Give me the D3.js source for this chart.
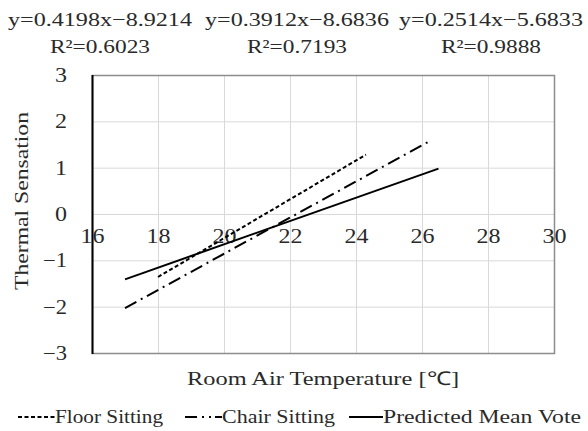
<!DOCTYPE html>
<html lang="en">
<head>
<meta charset="UTF-8">
<title>Thermal Sensation</title>
<script src="https://cdn.jsdelivr.net/npm/d3@7"></script>
<style>
  body { margin: 0; padding: 0; background: #fff; }
  svg { display: block; font-family: "Liberation Serif", serif; }
  .grid line { stroke: #d9d9d9; stroke-width: 1px; }
  .tick text { fill: #2a2a2a; }
  .lbl { fill: #2a2a2a; font-size: 19px; }
</style>
</head>
<body>
<div id="chart"></div>
<script>
// series endpoints (trend lines)
var floorX = [18, 24.3], floorY = [-1.36, 1.28];
var chairX = [17, 26.3], chairY = [-2.03, 1.60];
var pmvX = [17, 26.5], pmvY = [-1.41, 0.98];

var xTicks = [16, 18, 20, 22, 24, 26, 28, 30];
var yTicks = [-3, -2, -1, 0, 1, 2, 3];

var equations = ['y=0.4198x\u22128.9214', 'y=0.3912x\u22128.6836', 'y=0.2514x\u22125.6833'];
var rSquared = ['R\u00b2=0.6023', 'R\u00b2=0.7193', 'R\u00b2=0.9888'];
var seriesNames = ['Floor Sitting', 'Chair Sitting', 'Predicted Mean Vote'];

var width = 588, height = 431;
var pLeft = 92, pRight = 554, pTop = 75, pBottom = 353;

var svg = d3.select('#chart').append('svg')
  .attr('width', width).attr('height', height);

var x = d3.scaleLinear().domain([16, 30]).range([pLeft, pRight]);
var y = d3.scaleLinear().domain([-3, 3]).range([pBottom, pTop]);

// the original font is wider than Liberation Serif, so stretch texts to the measured width
function fit(sel, w) {
  sel.attr('textLength', w).attr('lengthAdjust', 'spacingAndGlyphs');
}

// gridlines
var grid = svg.append('g').attr('class', 'grid');
grid.selectAll('line.h').data(yTicks).enter().append('line')
  .attr('class', 'h')
  .attr('x1', pLeft).attr('x2', pRight)
  .attr('y1', d => y(d) + 0.5).attr('y2', d => y(d) + 0.5);
grid.selectAll('line.v').data(xTicks).enter().append('line')
  .attr('class', 'v')
  .attr('y1', pTop).attr('y2', pBottom)
  .attr('x1', d => x(d) + 0.5).attr('x2', d => x(d) + 0.5);

// frame
svg.append('rect')
  .attr('x', pLeft + 0.5).attr('y', pTop + 0.5)
  .attr('width', pRight - pLeft).attr('height', pBottom - pTop)
  .attr('fill', 'none').attr('stroke', '#8c8c8c').attr('stroke-width', 1.5);
svg.append('line')
  .attr('x1', pLeft + 0.5).attr('x2', pLeft + 0.5)
  .attr('y1', pTop).attr('y2', pBottom + 1)
  .attr('stroke', '#000').attr('stroke-width', 2);

// y axis labels
var yAxis = d3.axisLeft(y).tickValues(yTicks).tickSize(0).tickPadding(25)
  .tickFormat(d => d < 0 ? '\u2212' + Math.abs(d) : d);
var yG = svg.append('g').attr('transform', 'translate(' + pLeft + ',0)')
  .call(yAxis).call(g => g.select('.domain').remove());
yG.selectAll('.tick text').each(function(d) {
  fit(d3.select(this), d < 0 ? 24 : 12);
});

// x axis labels sit just under the zero line
var xAxis = d3.axisBottom(x).tickValues(xTicks).tickSize(0).tickPadding(15);
var xG = svg.append('g').attr('transform', 'translate(0,' + y(0) + ')')
  .call(xAxis).call(g => g.select('.domain').remove());
xG.selectAll('.tick text').call(fit, 24);

svg.selectAll('.tick text')
  .attr('font-family', '"Liberation Serif", serif')
  .attr('font-size', 20);

// series lines
var series = [
  { xs: floorX, ys: floorY, dash: '4,2.5' },
  { xs: chairX, ys: chairY, dash: '13,5,2,5' },
  { xs: pmvX, ys: pmvY, dash: null }
];
var line = d3.line().x(d => x(d[0])).y(d => y(d[1]));
series.forEach(function(s) {
  svg.append('path')
    .datum(d3.zip(s.xs, s.ys))
    .attr('d', line)
    .attr('fill', 'none')
    .attr('stroke', '#000')
    .attr('stroke-width', 2)
    .attr('stroke-dasharray', s.dash);
});

// equations
var eqCenters = [100, 297, 491];
equations.forEach(function(t, i) {
  svg.append('text').attr('class', 'lbl')
    .attr('x', eqCenters[i]).attr('y', 26)
    .attr('text-anchor', 'middle').text(t).call(fit, 184);
  svg.append('text').attr('class', 'lbl')
    .attr('x', eqCenters[i]).attr('y', 53)
    .attr('text-anchor', 'middle').text(rSquared[i]).call(fit, 100);
});

// axis titles
svg.append('text').attr('class', 'lbl')
  .attr('transform', 'translate(28,201) rotate(-90)')
  .attr('text-anchor', 'middle').text('Thermal Sensation').call(fit, 178);
svg.append('text').attr('class', 'lbl')
  .attr('x', (pLeft + pRight) / 2).attr('y', 385)
  .attr('text-anchor', 'middle').text('Room Air Temperature [\u2103]').call(fit, 272);

// legend
var legendX = [18, 185, 349];
var legendW = [37, 37, 34];
var legendDash = ['4,2.5', '12,5,2,5,2,4,7', null];
var legendTextW = [108, 113, 198];
series.forEach(function(s, i) {
  var g = svg.append('g').attr('transform', 'translate(' + legendX[i] + ',417)');
  g.append('line').attr('x1', 0).attr('x2', legendW[i]).attr('y1', 0).attr('y2', 0)
    .attr('stroke', '#000').attr('stroke-width', 2)
    .attr('stroke-dasharray', legendDash[i]);
  g.append('text').attr('class', 'lbl')
    .attr('x', legendW[i]).attr('y', 6).text(seriesNames[i]).call(fit, legendTextW[i]);
});
</script>
</body>
</html>
